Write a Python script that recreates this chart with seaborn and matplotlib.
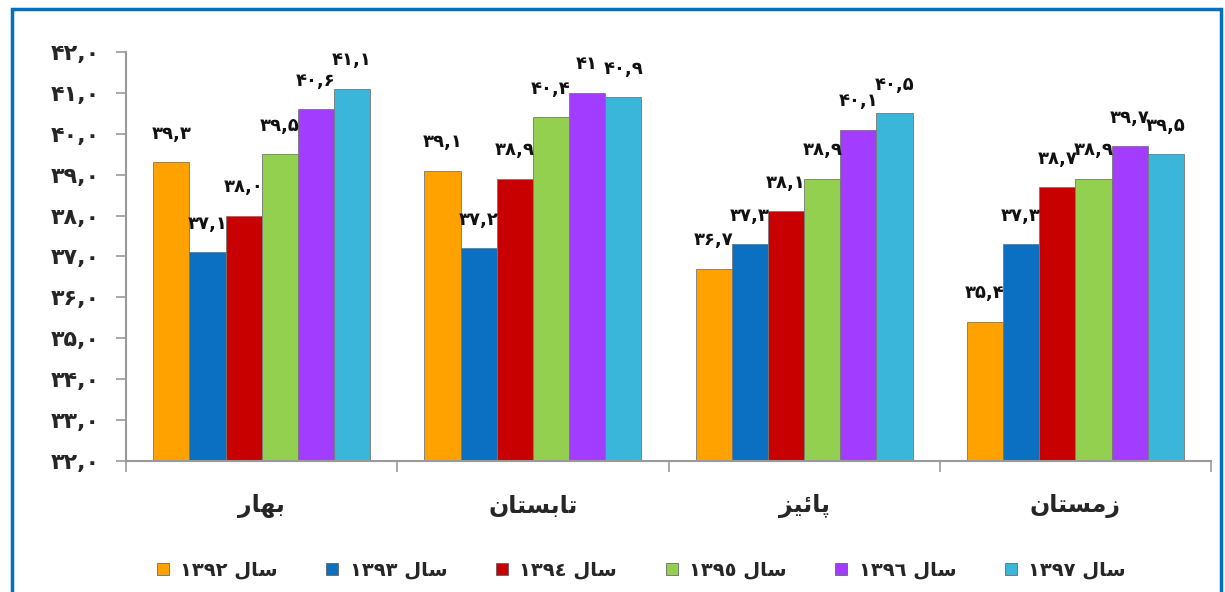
import pandas as pd
import matplotlib
matplotlib.use('Agg')
import matplotlib.pyplot as plt
from matplotlib.patches import Rectangle
from matplotlib.ticker import FixedLocator, FuncFormatter
import seaborn as sns

# داده ها
seasons = ['بهار', 'تابستان', 'پائیز', 'زمستان']
years = ['۱۳۹۲', '۱۳۹۳', '۱۳۹٤', '۱۳۹٥', '۱۳۹٦', '۱۳۹۷']
v1392 = [39.3, 39.1, 36.7, 35.4]
v1393 = [37.1, 37.2, 37.3, 37.3]
v1394 = [38.0, 38.9, 38.1, 38.7]
v1395 = [39.5, 40.4, 38.9, 38.9]
v1396 = [40.6, 41, 40.1, 39.7]
v1397 = [41.1, 40.9, 40.5, 39.5]
colors = ['#FFA200', '#0B70C2', '#C80000', '#94D050', '#A23CFF', '#3AB6DA']

# شکل دادن حروف عربی/فارسی (matplotlib اتصال حروف را انجام نمی دهد)
JOIN = {
    'ا': ('\uFE8D', '\uFE8E', None, None),
    'ب': ('\uFE8F', '\uFE90', '\uFE91', '\uFE92'),
    'پ': ('\uFB56', '\uFB57', '\uFB58', '\uFB59'),
    'ت': ('\uFE95', '\uFE96', '\uFE97', '\uFE98'),
    'ر': ('\uFEAD', '\uFEAE', None, None),
    'ز': ('\uFEAF', '\uFEB0', None, None),
    'س': ('\uFEB1', '\uFEB2', '\uFEB3', '\uFEB4'),
    'ل': ('\uFEDD', '\uFEDE', '\uFEDF', '\uFEE0'),
    'م': ('\uFEE1', '\uFEE2', '\uFEE3', '\uFEE4'),
    'ن': ('\uFEE5', '\uFEE6', '\uFEE7', '\uFEE8'),
    'ه': ('\uFEE9', '\uFEEA', '\uFEEB', '\uFEEC'),
    'ئ': ('\uFE89', '\uFE8A', '\uFE8B', '\uFE8C'),
    'ی': ('\uFBFC', '\uFBFD', '\uFBFE', '\uFBFF'),
}


def shape(word):
    out = []
    for i, ch in enumerate(word):
        forms = JOIN.get(ch)
        if forms is None:
            out.append(ch)
            continue
        prev = word[i - 1] if i > 0 else None
        nxt = word[i + 1] if i + 1 < len(word) else None
        jp = prev in JOIN and JOIN[prev][2] is not None
        jn = nxt in JOIN and forms[2] is not None
        if jp and jn:
            out.append(forms[3])
        elif jp:
            out.append(forms[1])
        elif jn:
            out.append(forms[2])
        else:
            out.append(forms[0])
    return ''.join(reversed(out))


FA = str.maketrans('0123456789.', '۰۱۲۳۴۵۶۷۸۹,')


def fa_num(v):
    if isinstance(v, int):
        return str(v).translate(FA)
    return f'{v:.1f}'.translate(FA)


series = [v1392, v1393, v1394, v1395, v1396, v1397]
rows = []
for y, vals in zip(years, series):
    for s, v in zip(seasons, vals):
        rows.append({'season': s, 'year': y, 'value': float(v), 'label': fa_num(v)})
df = pd.DataFrame(rows)

sns.set_style('white')
plt.rcParams['font.family'] = ['DejaVu Sans']
plt.rcParams['font.weight'] = 'bold'

fig = plt.figure(figsize=(12.25, 5.92), dpi=100)
ax = fig.add_axes([0.1029, 0.2213, 0.8857, 0.6909])

sns.barplot(data=df, x='season', y='value', hue='year', order=seasons,
            hue_order=years, palette=dict(zip(years, colors)), width=0.8,
            saturation=1, legend=False, ax=ax, edgecolor='#777777', linewidth=0.6)

for cont, y in zip(ax.containers, years):
    labs = df[df['year'] == y].set_index('season').loc[seasons, 'label'].tolist()
    ax.bar_label(cont, labels=labs, padding=14, fontsize=13, color='#111111',
                 fontweight='bold')

ax.set_ylim(32, 42)
ax.set_xlim(-0.5, 3.5)
ax.set_yticks(range(32, 43))
ax.yaxis.set_major_formatter(FuncFormatter(lambda v, p: f'{v:.1f}'.translate(FA)))
ax.set_xticks(range(4))
ax.set_xticklabels([shape(s) for s in seasons], fontsize=17, fontweight='bold')
ax.xaxis.set_minor_locator(FixedLocator([-0.5, 0.5, 1.5, 2.5, 3.5]))
ax.tick_params(axis='x', which='major', bottom=False, length=0, pad=24)
ax.tick_params(axis='x', which='minor', bottom=True, length=8, color='#999999', width=1.2)
ax.tick_params(axis='y', left=True, length=7, color='#999999', width=1.2,
               labelsize=16, pad=12)
ax.set_xlabel('')
ax.set_ylabel('')
for side in ['top', 'right']:
    ax.spines[side].set_visible(False)
for side in ['left', 'bottom']:
    ax.spines[side].set_color('#999999')
    ax.spines[side].set_linewidth(1.5)

handles = [plt.Line2D([], [], marker='s', linestyle='', markersize=9,
                      markerfacecolor=c, markeredgecolor='#555555', markeredgewidth=0.5)
           for c in colors]
labels = [f'{y} {shape("سال")}' for y in years]
fig.legend(handles, labels, loc='center', bbox_to_anchor=(0.522, 0.037), ncol=6,
           frameon=False, prop={'size': 14, 'weight': 'bold'}, columnspacing=2.3,
           handletextpad=0.4, handlelength=1.0)

fig.patches.append(Rectangle((12 / 1225, -0.05), 1209 / 1225, 1.05 - 9 / 592,
                             transform=fig.transFigure, fill=False,
                             edgecolor='#0070C0', linewidth=2.5))

fig.savefig('out.png', dpi=100)
